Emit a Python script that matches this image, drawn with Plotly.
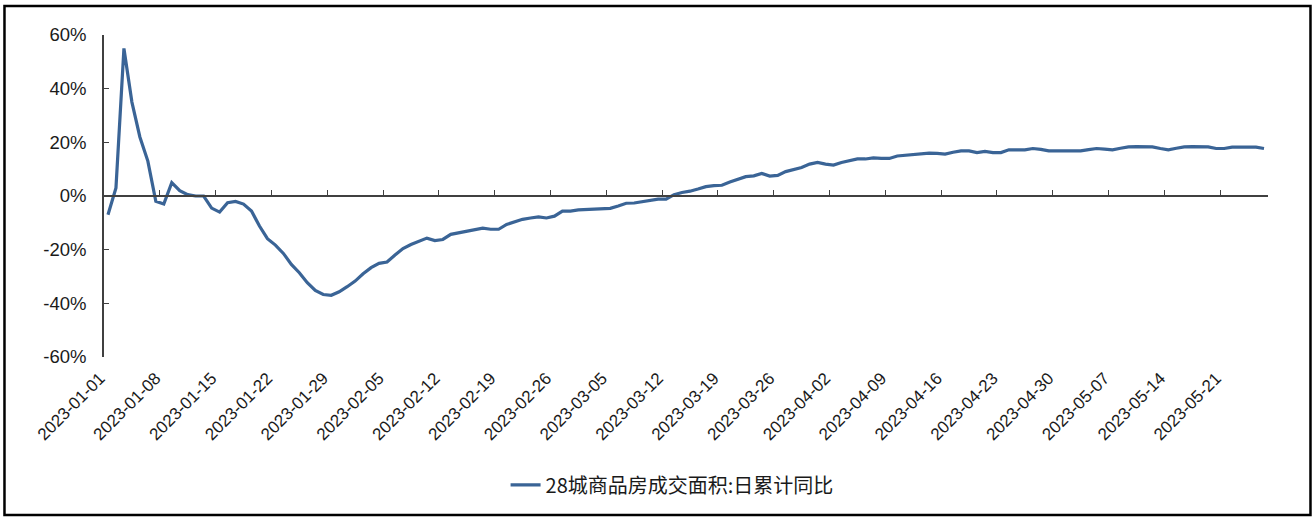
import pandas as pd
import plotly.graph_objects as go

dates = pd.date_range("2023-01-01", periods=146, freq="D")

yoy_pct = [
    -7, 3, 55, 35, 22, 13, -2, -3, 5, 2,
    0.5, 0, 0, -4.5, -6, -2.5, -2, -3, -5.6, -11.2,
    -15.9, -18.3, -21.4, -25.5, -28.6, -32.3, -35.2, -36.7, -37, -35.7,
    -33.8, -31.7, -29, -26.7, -25.1, -24.6, -22, -19.6, -18.1, -16.8,
    -15.7, -16.6, -16.2, -14.3, -13.8, -13.3, -12.8, -12, -12.4, -12.4,
    -10.6, -9.6, -8.7, -8.2, -7.8, -8.2, -7.5, -5.6, -5.6, -5.2,
    -5, -4.7, -4.6, -4.6, -3.7, -2.7, -2.6, -2.2, -1.5, -1.2,
    -1.2, 0.5, 1.3, 1.8, 2.6, 3.5, 3.9, 4, 5.2, 6.2,
    7.2, 7.5, 8.4, 7.4, 7.7, 9.1, 10, 10.6, 11.9, 12.5,
    11.9, 11.5, 12.5, 13.3, 13.8, 13.8, 14.2, 14, 14, 14.9,
    15.2, 15.6, 15.8, 16, 15.9, 15.6, 16.3, 16.8, 16.8, 16.2,
    16.6, 16.2, 16.2, 17.2, 17.2, 17.2, 17.7, 17.4, 16.8, 16.8,
    16.8, 16.8, 16.8, 17.3, 17.7, 17.5, 17.2, 17.8, 18.3, 18.4,
    18.4, 18.3, 17.7, 17.2, 17.8, 18.3, 18.4, 18.4, 18.3, 17.7,
    17.7, 18.2, 18.3, 18.3, 18.2, 17.7,
]

series_name = "28城商品房成交面积:日累计同比"
y_ticks = [-60, -40, -20, 0, 20, 40, 60]
y_tick_text = ["-60%", "-40%", "-20%", "0%", "20%", "40%", "60%"]

AX = "#404040"
LINE = "#3A6496"
WEEK_MS = 7 * 86400000
x_range = ["2023-01-01", "2023-05-27"]

fig = go.Figure()
fig.add_trace(go.Scatter(
    x=dates, y=yoy_pct, mode="lines", name=series_name,
    line=dict(color=LINE, width=3.2),
    xperiod=86400000, xperiodalignment="middle",
))

fig.update_layout(
    width=1315, height=517,
    margin=dict(l=104, r=47, t=35, b=160),
    paper_bgcolor="white", plot_bgcolor="white",
    font=dict(family="Liberation Sans, Arial, sans-serif", color="#1a1a1a"),
    showlegend=True,
    legend=dict(
        orientation="h", x=0.345, xanchor="left", y=-0.397, yanchor="middle",
        font=dict(family="Noto Sans CJK SC", size=20, color="#1a1a1a"),
        itemwidth=30,
    ),
    xaxis=dict(
        type="date", range=x_range, tick0="2023-01-01", dtick=WEEK_MS,
        tickformat="%Y-%m-%d", tickangle=-45,
        tickfont=dict(size=17, color="#1a1a1a"),
        anchor="free", position=0.5, side="bottom",
        ticks="inside", ticklen=5, tickcolor=AX, tickwidth=1,
        showline=True, linecolor=AX, linewidth=1.5,
        ticklabelstandoff=165, ticklabelshift=-4,
        showgrid=False, zeroline=False, automargin=False,
    ),
    yaxis=dict(
        range=[-60, 60], tickvals=y_ticks, ticktext=y_tick_text,
        tickfont=dict(size=18.5, color="#1a1a1a"),
        showline=True, linecolor=AX, linewidth=1.5,
        ticks="inside", ticklen=5, tickcolor=AX,
        ticklabelstandoff=12,
        showgrid=False, zeroline=False, automargin=False,
    ),
    shapes=[dict(
        type="rect", xref="paper", yref="paper",
        x0=-0.0855, x1=1.0365, y0=-0.491, y1=1.090,
        line=dict(color="black", width=2.5), fillcolor="rgba(0,0,0,0)",
        layer="below",
    )],
)

fig.write_html(
    "out.html",
    config={"displayModeBar": False},
    post_script="document.body.style.margin='0';document.body.style.overflow='hidden';",
)
